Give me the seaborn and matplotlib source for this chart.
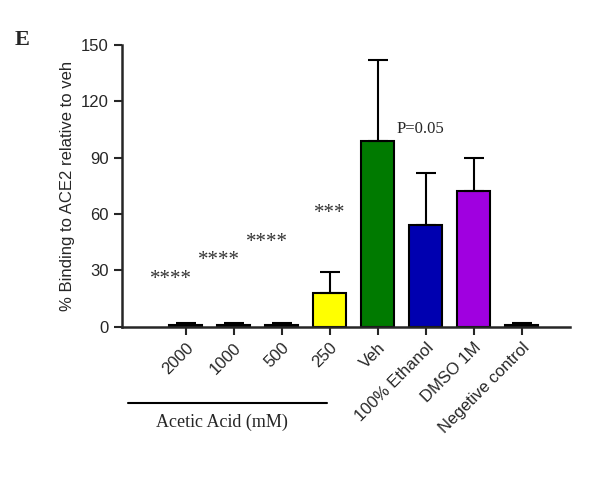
import matplotlib
matplotlib.use("Agg")
import matplotlib.pyplot as plt
import seaborn as sns
import pandas as pd
import numpy as np

categories = ["2000", "1000", "500", "250", "Veh", "100% Ethanol", "DMSO 1M", "Negetive control"]
values = [1, 1, 1, 18, 99, 54, 72, 1]
errors = [0.8, 0.8, 0.8, 11, 43, 28, 18, 0.8]
colors = ["#ffffff", "#ffffff", "#ffffff", "#ffff00", "#007a00", "#0000b0", "#a000e0", "#ffffff"]
stars = ["****", "****", "****", "***"]
star_y = [20, 30, 40, 55]

sns.set_style("ticks")
plt.rcParams['font.family'] = ['Liberation Sans', 'DejaVu Sans']
fig = plt.figure(figsize=(5.94, 4.82), dpi=100)
ax = fig.add_axes([0.205, 0.322, 0.754, 0.585])
df = pd.DataFrame({"cat": categories, "val": values})
sns.barplot(data=df, x="cat", y="val", hue="cat", palette=colors, legend=False,
            edgecolor="black", linewidth=1.5, width=0.7, ax=ax, errorbar=None, saturation=1)
x = np.arange(len(categories))
ax.errorbar(x, values, yerr=[np.zeros(len(values)), errors], fmt="none",
            ecolor="black", elinewidth=1.5, capsize=7, capthick=1.5)
for i, (s, y) in enumerate(zip(stars, star_y)):
    ax.text(i - 0.3 if i < 3 else i, y, s, ha="center", va="bottom", fontsize=15,
            family="Liberation Serif", color="#333333")
ax.text(4.4, 101, "P=0.05", ha="left", va="bottom", fontsize=12, family="Liberation Serif")
ax.set_xlim(-1.33, 8.0)
ax.set_ylim(0, 150)
ax.set_yticks([0, 30, 60, 90, 120, 150])
ax.set_xlabel("")
ax.set_ylabel("% Binding to ACE2 relative to veh", fontsize=12)
ax.tick_params(axis="both", labelsize=12, width=1.5, length=6)
ax.set_xticks(x)
ax.set_xticklabels(categories, rotation=45, ha="right", rotation_mode="anchor", fontsize=12)
for sp in ["left", "bottom"]:
    ax.spines[sp].set_linewidth(1.8)
sns.despine(ax=ax)
fig.add_artist(plt.Line2D([128/594, 327/594], [1-403/482]*2, color="black", lw=1.5))
fig.text(222/594, 1-422/482, "Acetic Acid (mM)", ha="center", va="center", fontsize=13,
         family="Liberation Serif")
fig.text(15/594, 1-40/482, "E", fontsize=16, fontweight="bold", family="Liberation Serif",
         va="center")
fig.savefig("out.png", dpi=100)
